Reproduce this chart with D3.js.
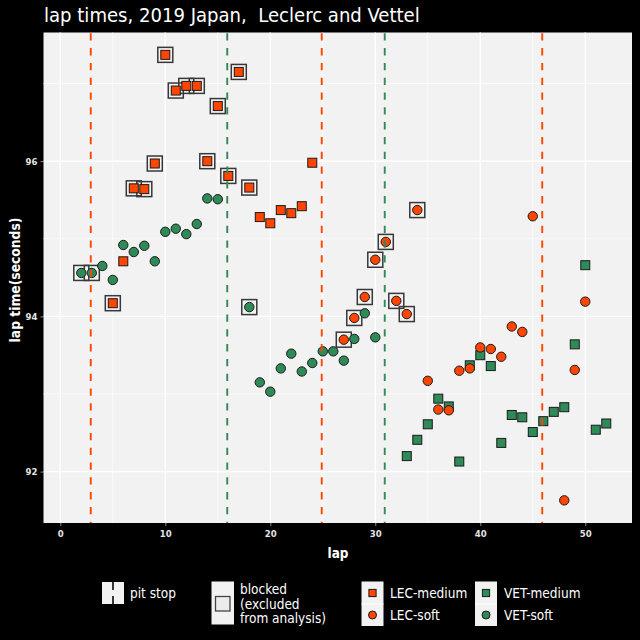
<!DOCTYPE html>
<html>
<head>
<meta charset="utf-8">
<script src="https://cdn.jsdelivr.net/npm/d3@7"></script>
<style>
  html, body { margin: 0; padding: 0; background: #000; }
  svg { display: block; }
  text { font-family: "DejaVu Sans Condensed", "DejaVu Sans", sans-serif; }
</style>
</head>
<body>
<script>
// ---------------- DATA ----------------
const titleText = "lap times, 2019 Japan,  Leclerc and Vettel";
const xLabel = "lap";
const yLabel = "lap time(seconds)";

const xTicks = [0, 10, 20, 30, 40, 50];
const xMinorTicks = [5, 15, 25, 35, 45];
const yTicks = [92, 94, 96];
const yMinorTicks = [93, 95, 97];

// Leclerc
const lecLaps = [5, 6, 7, 8, 9, 10, 11, 12, 13, 14, 15, 16, 17, 18, 19, 20, 21, 22, 23, 24,
                 27, 28, 29, 30, 31, 32, 33, 34, 35, 36, 37, 38, 39, 40, 41, 42, 43, 44, 45, 48, 49, 50];
const lecTimes = [94.17, 94.71, 95.65, 95.64, 95.97, 97.37, 96.91, 96.97, 96.97, 96.00, 96.71, 95.81, 97.15, 95.66,
                  95.28, 95.20, 95.37, 95.33, 95.42, 95.98,
                  93.70, 93.98, 94.25, 94.73, 94.96, 94.20, 94.03, 95.37, 93.17, 92.80, 92.79, 93.30, 93.33,
                  93.60, 93.58, 93.48, 93.87, 93.80, 95.29, 91.63, 93.31, 94.19];
const lecCompound = ["medium","medium","medium","medium","medium","medium","medium","medium","medium","medium",
                     "medium","medium","medium","medium","medium","medium","medium","medium","medium","medium",
                     "soft","soft","soft","soft","soft","soft","soft","soft","soft","soft","soft","soft","soft",
                     "soft","soft","soft","soft","soft","soft","soft","soft","soft"];
const lecBlocked = [1,0,1,1,1,1,1,1,1,1,1,1,1,1,0,0,0,0,0,0,
                    1,1,1,1,1,1,1,1,0,0,0,0,0,0,0,0,0,0,0,0,0,0];
const lecPits = [2.9, 24.9, 45.9];

// Vettel
const vetLaps = [2, 3, 4, 5, 6, 7, 8, 9, 10, 11, 12, 13, 14, 15, 18, 19, 20, 21, 22, 23, 24, 25, 26, 27, 28, 29, 30,
                 33, 34, 35, 36, 37, 38, 39, 40, 41, 42, 43, 44, 45, 46, 47, 48, 49, 50, 51, 52];
const vetTimes = [94.56, 94.56, 94.65, 94.47, 94.92, 94.83, 94.91, 94.71, 95.09, 95.13, 95.06, 95.19, 95.52, 95.51,
                  94.12, 93.15, 93.03, 93.33, 93.52, 93.29, 93.40, 93.55, 93.55, 93.43, 93.71, 94.04, 93.73,
                  92.20, 92.41, 92.61, 92.94, 92.84, 92.13, 93.37, 93.50, 93.36, 92.37, 92.73, 92.70, 92.51,
                  92.65, 92.77, 92.83, 93.64, 94.66, 92.54, 92.62];
const vetCompound = ["soft","soft","soft","soft","soft","soft","soft","soft","soft","soft","soft","soft","soft","soft",
                     "soft","soft","soft","soft","soft","soft","soft","soft","soft","soft","soft","soft","soft",
                     "medium","medium","medium","medium","medium","medium","medium","medium","medium","medium",
                     "medium","medium","medium","medium","medium","medium","medium","medium","medium","medium"];
const vetBlocked = [1,1,0,0,0,0,0,0,0,0,0,0,0,0,1,0,0,0,0,0,0,0,0,0,0,0,0,
                    0,0,0,0,0,0,0,0,0,0,0,0,0,0,0,0,0,0,0,0];
const vetPits = [15.9, 30.9];

const legendLabels = ["LEC-medium", "LEC-soft", "VET-medium", "VET-soft"];
const blockedLabel = ["blocked", "(excluded", "from analysis)"];
const pitLabel = "pit stop";

// ---------------- STYLE ----------------
const colLEC = "#FF4500";
const colVET = "#2E8B57";
const panelBg = "#f2f2f2";

const W = 640, H = 640;
const svg = d3.select("body").append("svg").attr("width", W).attr("height", H);
svg.append("rect").attr("width", W).attr("height", H).attr("fill", "#000");

const P = { left: 43.5, right: 632, top: 32.5, bottom: 523 };
const x = d3.scaleLinear().domain([-1.6, 54.45]).range([P.left, P.right]);
const y = d3.scaleLinear().domain([91.338, 97.658]).range([P.bottom, P.top]);

// panel
svg.append("rect").attr("x", P.left).attr("y", P.top)
  .attr("width", P.right - P.left).attr("height", P.bottom - P.top).attr("fill", panelBg);

const grid = svg.append("g");
grid.selectAll(".xmin").data(xMinorTicks).join("line")
  .attr("x1", d => x(d)).attr("x2", d => x(d)).attr("y1", P.top).attr("y2", P.bottom)
  .attr("stroke", "#fff").attr("stroke-width", 0.7);
grid.selectAll(".ymin").data(yMinorTicks).join("line")
  .attr("y1", d => y(d)).attr("y2", d => y(d)).attr("x1", P.left).attr("x2", P.right)
  .attr("stroke", "#fff").attr("stroke-width", 0.7);
grid.selectAll(".xmaj").data(xTicks).join("line")
  .attr("x1", d => x(d)).attr("x2", d => x(d)).attr("y1", P.top).attr("y2", P.bottom)
  .attr("stroke", "#fff").attr("stroke-width", 1.4);
grid.selectAll(".ymaj").data(yTicks).join("line")
  .attr("y1", d => y(d)).attr("y2", d => y(d)).attr("x1", P.left).attr("x2", P.right)
  .attr("stroke", "#fff").attr("stroke-width", 1.4);

// axes
const xAxis = svg.append("g").attr("transform", `translate(0,${P.bottom})`)
  .call(d3.axisBottom(x).tickValues(xTicks).tickSize(3).tickPadding(4).tickFormat(d3.format("d")));
const yAxis = svg.append("g").attr("transform", `translate(${P.left},0)`)
  .call(d3.axisLeft(y).tickValues(yTicks).tickSize(3).tickPadding(3).tickFormat(d3.format("d")));
[xAxis, yAxis].forEach(a => {
  a.select(".domain").remove();
  a.selectAll(".tick line").attr("stroke", "#8a8a8a");
  a.selectAll(".tick text").attr("fill", "#e4e4e4").attr("font-size", 9.5).attr("font-weight", "bold")
    .attr("font-family", "'DejaVu Sans Condensed', 'DejaVu Sans', sans-serif");
});

// data rows
function rows(laps, times, comp, blocked, driver) {
  return laps.map((l, i) => ({ lap: l, t: times[i], comp: comp[i], blocked: !!blocked[i], driver }));
}
const vet = rows(vetLaps, vetTimes, vetCompound, vetBlocked, "VET");
const lec = rows(lecLaps, lecTimes, lecCompound, lecBlocked, "LEC");
const all = vet.concat(lec);
const colorOf = d => d.driver === "LEC" ? colLEC : colVET;

// blocked boxes
const BOX = 15;
svg.append("g").selectAll("rect").data(all.filter(d => d.blocked)).join("rect")
  .attr("x", d => x(d.lap) - BOX / 2).attr("y", d => y(d.t) - BOX / 2)
  .attr("width", BOX).attr("height", BOX)
  .attr("fill", "none").attr("stroke", "#383838").attr("stroke-width", 1.5);

// markers
const SQ = 9, R = 4.7;
const marks = svg.append("g");
all.forEach(d => {
  if (d.comp === "medium") {
    marks.append("rect").attr("x", x(d.lap) - SQ / 2).attr("y", y(d.t) - SQ / 2)
      .attr("width", SQ).attr("height", SQ).attr("fill", colorOf(d))
      .attr("stroke", "#1a1a1a").attr("stroke-width", 1);
  } else {
    marks.append("circle").attr("cx", x(d.lap)).attr("cy", y(d.t)).attr("r", R)
      .attr("fill", colorOf(d)).attr("stroke", "#1a1a1a").attr("stroke-width", 1);
  }
});

// pit stop lines
const pits = lecPits.map(p => ({ p, c: colLEC })).concat(vetPits.map(p => ({ p, c: colVET })));
svg.append("g").selectAll("line").data(pits).join("line")
  .attr("x1", d => x(d.p)).attr("x2", d => x(d.p)).attr("y1", P.top).attr("y2", P.bottom)
  .attr("stroke", d => d.c).attr("stroke-width", 1.9).attr("stroke-dasharray", "7.3,7.5")
  .attr("stroke-dashoffset", -0.8);

// titles
function fit(sel, target) {
  const fs = parseFloat(sel.attr("font-size"));
  const w = sel.node().getComputedTextLength();
  sel.attr("font-size", fs * target / w);
}
const title = svg.append("text").attr("x", 44).attr("y", 22).attr("fill", "#fff")
  .attr("font-size", 18).style("white-space", "pre").attr("xml:space", "preserve").text(titleText);
fit(title, 376);

const xl = svg.append("text").attr("x", 338).attr("y", 558).attr("text-anchor", "middle")
  .attr("fill", "#fff").attr("font-weight", "bold").attr("font-size", 13).text(xLabel);
fit(xl, 21);
const yl = svg.append("text").attr("transform", "translate(19.5,280) rotate(-90)")
  .attr("text-anchor", "middle").attr("fill", "#fff").attr("font-weight", "bold")
  .attr("font-size", 13).text(yLabel);
fit(yl, 125);

// ---------------- LEGEND ----------------
const lg = svg.append("g");
const LFS = 13.5;
// pit stop
lg.append("rect").attr("x", 102).attr("y", 582).attr("width", 22).attr("height", 22).attr("fill", panelBg);
lg.append("line").attr("x1", 113).attr("x2", 113).attr("y1", 582).attr("y2", 590)
  .attr("stroke", "#222").attr("stroke-width", 1.8);
lg.append("line").attr("x1", 113).attr("x2", 113).attr("y1", 596).attr("y2", 604)
  .attr("stroke", "#222").attr("stroke-width", 1.8);
lg.append("text").attr("x", 130).attr("y", 593).attr("dy", "0.35em").attr("fill", "#fff")
  .attr("font-size", LFS).text(pitLabel);

// blocked
lg.append("rect").attr("x", 211.5).attr("y", 581.5).attr("width", 22.5).attr("height", 43).attr("fill", panelBg);
lg.append("rect").attr("x", 215.5).attr("y", 596.5).attr("width", 14.5).attr("height", 14.5)
  .attr("fill", "#ececec").attr("stroke", "#444").attr("stroke-width", 1.3);
lg.append("g").selectAll("text").data(blockedLabel).join("text")
  .attr("x", 240).attr("y", (d, i) => 589.5 + i * 14.5).attr("dy", "0.35em")
  .attr("fill", "#fff").attr("font-size", LFS).text(d => d);

// driver/compound
const keyX = [361.5, 475];
const textX = [390, 504];
const rowY = [593, 615];
legendLabels.forEach((lab, i) => {
  const col = Math.floor(i / 2), row = i % 2;
  if (row === 0) {
    lg.append("rect").attr("x", keyX[col]).attr("y", 581.5).attr("width", 22).attr("height", 44.5).attr("fill", panelBg);
    lg.append("line").attr("x1", keyX[col]).attr("x2", keyX[col] + 22).attr("y1", 604).attr("y2", 604)
      .attr("stroke", "#fff").attr("stroke-width", 1);
  }
  const c = col === 0 ? colLEC : colVET;
  const cx = keyX[col] + 11, cy = rowY[row];
  if (lab.endsWith("medium")) {
    lg.append("rect").attr("x", cx - 3.6).attr("y", cy - 3.6).attr("width", 7.2).attr("height", 7.2)
      .attr("fill", c).attr("stroke", "#1a1a1a").attr("stroke-width", 1);
  } else {
    lg.append("circle").attr("cx", cx).attr("cy", cy).attr("r", 4).attr("fill", c)
      .attr("stroke", "#1a1a1a").attr("stroke-width", 1);
  }
  lg.append("text").attr("x", textX[col]).attr("y", cy).attr("dy", "0.35em")
    .attr("fill", "#fff").attr("font-size", LFS).text(lab);
});
</script>
</body>
</html>
